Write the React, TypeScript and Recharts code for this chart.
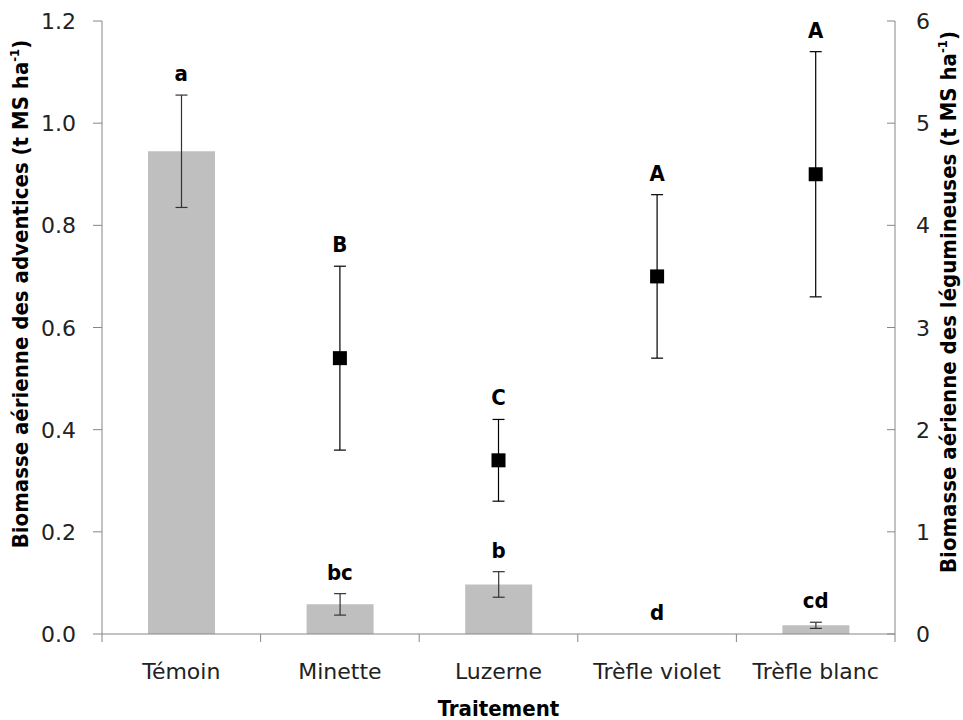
import React from "react";
import {
  ComposedChart,
  Bar,
  Scatter,
  ErrorBar,
  XAxis,
  YAxis,
} from "recharts";

const categories = ["Témoin", "Minette", "Luzerne", "Trèfle violet", "Trèfle blanc"];
const weedBiomass = [0.945, 0.058, 0.097, 0, 0.017];
const weedError = [0.11, 0.021, 0.025, 0, 0.006];
const weedLetters = ["a", "bc", "b", "d", "cd"];
const legumeBiomass = [null, 2.7, 1.7, 3.5, 4.5];
const legumeError = [null, 0.9, 0.4, 0.8, 1.2];
const legumeLetters = [null, "B", "C", "A", "A"];

const leftTicks = [0, 0.2, 0.4, 0.6, 0.8, 1.0, 1.2];
const rightTicks = [0, 1, 2, 3, 4, 5, 6];

const W = 963;
const H = 720;
const LEFT_W = 102;
const RIGHT_W = 68;
const BAND = (W - LEFT_W - RIGHT_W) / categories.length;

const AXIS_COLOR = "#868686";
const TICK_FONT = "'DejaVu Sans', sans-serif";
const TITLE_FONT = "'DejaVu Sans Condensed', 'DejaVu Sans', sans-serif";

const data = categories.map((name, i) => ({
  name,
  weed: weedBiomass[i],
  weedErr: weedError[i],
  weedTop: weedBiomass[i] + weedError[i],
  weedLetter: weedLetters[i],
  legume: legumeBiomass[i],
  legumeErr: legumeError[i],
  legumeTop: legumeBiomass[i] == null ? null : legumeBiomass[i]! + legumeError[i]!,
  legumeLetter: legumeLetters[i],
}));

function CategoryTick(props: any) {
  const { x, y, payload, index } = props;
  return (
    <g>
      <line x1={x - BAND / 2} x2={x - BAND / 2} y1={y} y2={y + 8} stroke={AXIS_COLOR} />
      {index === categories.length - 1 && (
        <line x1={x + BAND / 2} x2={x + BAND / 2} y1={y} y2={y + 8} stroke={AXIS_COLOR} />
      )}
      <text x={x} y={y + 45} textAnchor="middle" fontFamily={TICK_FONT} fontSize={22} fill="#222">
        {payload.value}
      </text>
    </g>
  );
}

function LeftTick(props: any) {
  const { x, y, payload } = props;
  return (
    <g>
      <line x1={x - 9} x2={x} y1={y} y2={y} stroke={AXIS_COLOR} />
      <text x={x - 26} y={y + 8} textAnchor="end" fontFamily={TICK_FONT} fontSize={22} fill="#222">
        {payload.value.toFixed(1)}
      </text>
    </g>
  );
}

function RightTick(props: any) {
  const { x, y, payload } = props;
  return (
    <g>
      <line x1={x - 8} x2={x} y1={y} y2={y} stroke={AXIS_COLOR} />
      <text x={x + 21} y={y + 8} textAnchor="start" fontFamily={TICK_FONT} fontSize={22} fill="#222">
        {payload.value}
      </text>
    </g>
  );
}

function LetterShape(key: "weedLetter" | "legumeLetter") {
  return (props: any) => {
    const { cx, cy, payload } = props;
    const letter = payload[key];
    if (!letter || cx == null || cy == null || isNaN(cy)) return <g />;
    return (
      <text x={cx} y={cy - 14} textAnchor="middle" fontFamily={TITLE_FONT} fontWeight="bold" fontSize={22} fill="#000">
        {letter}
      </text>
    );
  };
}

function SquareShape(props: any) {
  const { cx, cy } = props;
  if (cx == null || cy == null || isNaN(cy)) return <g />;
  return <rect x={cx - 7} y={cy - 7} width={14} height={14} fill="#000" />;
}

function VerticalTitle({ x, cy, text }: { x: number; cy: number; text: string }) {
  return (
    <text
      transform={`translate(${x}, ${cy}) rotate(-90)`}
      textAnchor="middle"
      fontFamily={TITLE_FONT}
      fontWeight="bold"
      fontSize={22}
      fill="#000"
    >
      {text}
      <tspan dy={-9} fontSize={13}>-1</tspan>
      <tspan dy={9}>)</tspan>
    </text>
  );
}

export default function App() {
  return (
    <div style={{ position: "absolute", left: 0, top: 0, width: W, height: H, background: "#fff" }}>
      <ComposedChart
        width={W}
        height={H}
        data={data}
        margin={{ top: 21, right: 0, bottom: 0, left: 0 }}
        barCategoryGap="29%"
      >
        <XAxis
          dataKey="name"
          height={86}
          stroke={AXIS_COLOR}
          tickLine={false}
          tickSize={0}
          tickMargin={0}
          tick={<CategoryTick />}
          interval={0}
          label={{
            value: "Traitement",
            position: "insideBottom",
            offset: 4,
            style: { fontFamily: TITLE_FONT, fontWeight: "bold", fontSize: 22, fill: "#000" },
          }}
        />
        <YAxis
          yAxisId="left"
          width={LEFT_W}
          domain={[0, 1.2]}
          ticks={leftTicks}
          stroke={AXIS_COLOR}
          tickLine={false}
          tickSize={0}
          tickMargin={0}
          tick={<LeftTick />}
          interval={0}
        />
        <YAxis
          yAxisId="right"
          orientation="right"
          width={RIGHT_W}
          domain={[0, 6]}
          ticks={rightTicks}
          stroke={AXIS_COLOR}
          tickLine={false}
          tickSize={0}
          tickMargin={0}
          tick={<RightTick />}
          interval={0}
        />
        <Bar yAxisId="left" dataKey="weed" fill="#bfbfbf" isAnimationActive={false}>
          <ErrorBar dataKey="weedErr" width={6} stroke="#333" strokeWidth={1.2} />
        </Bar>
        <Scatter yAxisId="right" dataKey="legume" shape={SquareShape} isAnimationActive={false}>
          <ErrorBar dataKey="legumeErr" direction="y" width={6} stroke="#000" strokeWidth={1.2} />
        </Scatter>
        <Scatter yAxisId="left" dataKey="weedTop" shape={LetterShape("weedLetter")} isAnimationActive={false} />
        <Scatter yAxisId="right" dataKey="legumeTop" shape={LetterShape("legumeLetter")} isAnimationActive={false} />
        <VerticalTitle x={28} cy={294} text="Biomasse aérienne des adventices  (t MS ha" />
        <VerticalTitle x={956} cy={302} text="Biomasse aérienne des légumineuses (t MS ha" />
      </ComposedChart>
    </div>
  );
}
